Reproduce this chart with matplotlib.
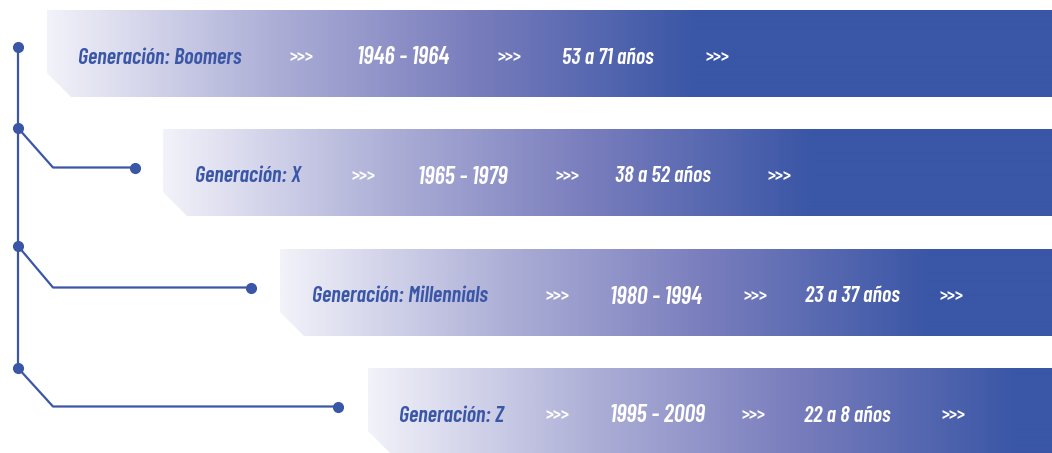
import matplotlib
matplotlib.use("Agg")
import numpy as np
import matplotlib.pyplot as plt
from matplotlib.colors import LinearSegmentedColormap
from matplotlib.patches import Polygon

# data
generaciones = ["Generación: Boomers", "Generación: X", "Generación: Millennials", "Generación: Z"]
periodos = ["1946 - 1964", "1965 - 1979", "1980 - 1994", "1995 - 2009"]
edades = ["53 a 71 años", "38 a 52 años", "23 a 37 años", "22 a 8 años"]

# layout (pixels, y from top)
W, H = 1052, 453
banner_left = [47, 163, 280, 368]
banner_top = [10, 129, 249, 368]
banner_h = 87
chamfer = 24
grad_len = 650
# start x of each text item in a row: label, >>>, period, >>>, age, >>>
cols = [
    [78, 290, 357, 497, 562, 706],
    [195, 352, 418, 555, 615, 768],
    [312, 546, 610, 743, 805, 940],
    [399, 546, 610, 742, 804, 942],
]
spine_x = 18
elbow_x = 53
dot_y = [47, 128, 246, 368]
dot_end = [None, 135, 251, 338]

BLUE = "#3a56a6"
cmap = LinearSegmentedColormap.from_list(
    "banner", [(0, "#f2f2fa"), (0.35, "#acaed6"), (0.65, "#7a7ebd"), (1.0, BLUE)])

font = ["Barlow Condensed", "DejaVu Sans"]

fig = plt.figure(figsize=(W / 100, H / 100), dpi=100)
ax = fig.add_axes([0, 0, 1, 1])
ax.set_xlim(0, W)
ax.set_ylim(H, 0)
ax.axis("off")

for i in range(4):
    L, T = banner_left[i], banner_top[i]
    B = T + banner_h
    poly = Polygon([(L, T), (W, T), (W, B), (L + chamfer, B), (L, B - chamfer)],
                   closed=True, facecolor="none", edgecolor="none")
    ax.add_patch(poly)
    xs = np.arange(L, W)
    g = np.clip((xs - L) / grad_len, 0, 1)
    img = ax.imshow(g[np.newaxis, :], cmap=cmap, aspect="auto",
                    extent=[L, W, B, T], interpolation="bilinear", vmin=0, vmax=1)
    img.set_clip_path(poly)

    yc = T + banner_h / 2 + 2
    c = cols[i]
    ax.text(c[0], yc, generaciones[i], color=BLUE, fontsize=16, fontweight=600,
            fontstyle="italic", family=font, va="center_baseline", ha="left")
    for k in (1, 3, 5):
        ax.text(c[k], yc, ">>>", color="white", fontsize=13, fontweight=600,
                family=font, va="center_baseline", ha="left")
    ax.text(c[2], yc, periodos[i], color="white", fontsize=17.5, fontweight=600,
            fontstyle="italic", family=font, va="center_baseline", ha="left")
    ax.text(c[4], yc, edades[i], color="white", fontsize=16, fontweight=600,
            fontstyle="italic", family=font, va="center_baseline", ha="left")

# timeline
ax.plot([spine_x, spine_x], [dot_y[0], dot_y[-1]], color=BLUE, lw=1.6, solid_capstyle="butt")
ax.plot(spine_x, dot_y[0], "o", color=BLUE, ms=7)
for i in range(1, 4):
    yb = banner_top[i] + banner_h / 2 - 5
    ax.plot([spine_x, elbow_x, dot_end[i]], [dot_y[i], yb, yb], color=BLUE, lw=1.6)
    ax.plot(spine_x, dot_y[i], "o", color=BLUE, ms=7)
    ax.plot(dot_end[i], yb, "o", color=BLUE, ms=7)

fig.savefig("out.png", dpi=100)
